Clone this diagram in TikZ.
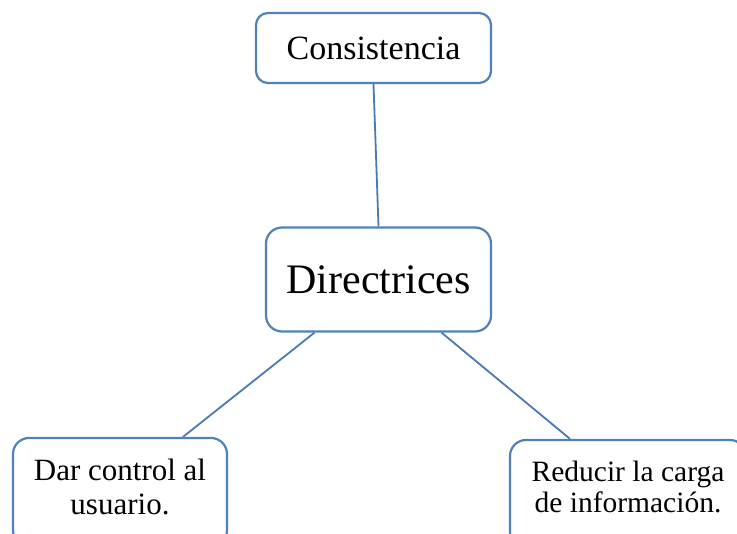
\documentclass[tikz,border=0pt]{standalone}
\usepackage{fontspec}
\setmainfont{Liberation Serif}

\begin{document}
\begin{tikzpicture}[x=1pt,y=-1pt,
                    every node/.style={draw=boxblue, line width=2.2pt,
                                       rounded corners=12pt, fill=white,
                                       inner sep=0pt, align=center},
                    link/.style={draw=linkblue, line width=1.8pt},
                    ]
    \definecolor{boxblue}{RGB}{79,129,189}
    \definecolor{linkblue}{RGB}{74,122,180}
    \clip (0,0) rectangle (737,534);
    \useasboundingbox (0,0) rectangle (737,534);

    % the four boxes
    \node (cons) [minimum width=235pt, minimum height=70pt,
                  font=\fontsize{34}{36}\selectfont]
        at (373.5,48) {Consistencia};
    \node (dir) [minimum width=225pt, minimum height=104pt, rounded corners=16pt,
                 font=\fontsize{42}{44}\selectfont]
        at (378.5,279.5) {Directrices};
    \node (dar) [minimum width=214pt, minimum height=108pt, rounded corners=16pt,
                 text depth=10pt, font=\fontsize{31}{34}\selectfont]
        at (120,492) {Dar control al\\usuario.};
    \node (red) [minimum width=236pt, minimum height=108pt, rounded corners=16pt,
                 text depth=14pt, font=\fontsize{29.5}{31}\selectfont]
        at (628,494) {Reducir la carga\\de información.};

    % connectors
    \draw[link] (cons.south) -- (dir.north);
    \draw[link] ([xshift=-64pt]dir.south) -- ([xshift=63pt]dar.north);
    \draw[link] ([xshift=63pt]dir.south) -- ([xshift=-58pt]red.north);
\end{tikzpicture}
\end{document}
